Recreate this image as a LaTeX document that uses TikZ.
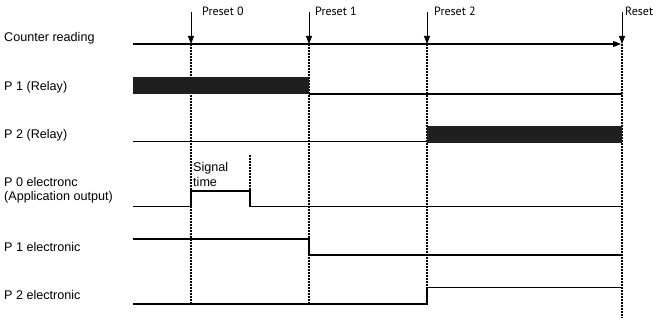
\documentclass[tikz,border=0pt]{standalone}
\usepackage{fontspec}
\setmainfont{Liberation Sans}
\newfontfamily\presetfont{PT Sans}
\usetikzlibrary{arrows.meta}
\begin{document}
\begin{tikzpicture}[x=1pt,y=-1pt,
  sig/.style={line width=1.3pt},
  bar/.style={fill=black!88,draw=none},
  guide/.style={line width=1.1pt,dash pattern=on 0.8pt off 0.7pt},
  lbl/.style={anchor=base west,inner sep=0pt,font=\fontsize{12.6}{14}\selectfont},
  pre/.style={anchor=base west,inner sep=0pt,font=\presetfont\fontsize{12}{13}\selectfont},
  drop/.style={-{Triangle[length=8pt,width=6pt]},line width=0.8pt}]
  \useasboundingbox (0,0) rectangle (657,320);
  % time instants
  \coordinate (t0) at (191,44);
  \coordinate (t1) at (309,44);
  \coordinate (t2) at (427,44);
  \coordinate (tr) at (622,44);
  \coordinate (ts) at (250,155);
  % row labels
  \node[lbl] (lc)  at (4,42)    {Counter reading};
  \node[lbl] (lr1) at (4,91)    {P 1 (Relay)};
  \node[lbl] (lr2) at (4,138.5) {P 2 (Relay)};
  \node[lbl] (le0) at (4,187)   {P 0 electronc};
  \node[lbl] (le0b) at (4,201)  {(Application output)};
  \node[lbl] (le1) at (4,251.5) {P 1 electronic};
  \node[lbl] (le2) at (4,300)   {P 2 electronic};
  % preset markers
  \node[pre] (p0) at (202,16) {Preset 0};
  \node[pre] (p1) at (315,16) {Preset 1};
  \node[pre] (p2) at (434,16) {Preset 2};
  \node[pre] (pr) at (625,16) {Reset};
  \foreach \t in {t0,t1,t2,tr}{
    \coordinate (\t top) at ([yshift=32pt]\t);
    \draw[drop] (\t top) -- (\t);
  }
  % dotted guides
  \foreach \t/\e in {t0/303,t1/303,t2/300,tr/318}{
    \draw[guide] (\t) -- (\t |- 0,\e);
  }
  \draw[guide] (ts) -- (ts |- 0,191);
  \node[lbl] (sg) at (193,172) {Signal};
  \node[lbl] (st) at (193,187) {time};
  % counter reading
  \coordinate (c0) at (133,44);
  \draw[sig,-{Triangle[length=8pt,width=6pt]}] (c0) -- ([xshift=-1pt]tr);
  % relay outputs
  \fill[bar] (133,77) rectangle (t1 |- 0,94);
  \draw[sig] (t1 |- 0,94) -- (tr |- 0,94);
  \draw[sig] (133,141.7) -- (t2 |- 0,141.7);
  \fill[bar] (t2 |- 0,126) rectangle (tr |- 0,142.7);
  % electronic outputs
  \draw[sig] (133,206.7) -- (t0 |- 0,206.7) -- (t0 |- 0,191) -- (ts |- 0,191)
    -- (ts |- 0,206.7) -- (tr |- 0,206.7);
  \draw[sig] (133,239) -- (t1 |- 0,239) -- (t1 |- 0,255) -- (tr |- 0,255);
  \draw[sig] (133,304) -- (t2 |- 0,304) -- (t2 |- 0,287.7) -- (tr |- 0,287.7);
\end{tikzpicture}
\end{document}
